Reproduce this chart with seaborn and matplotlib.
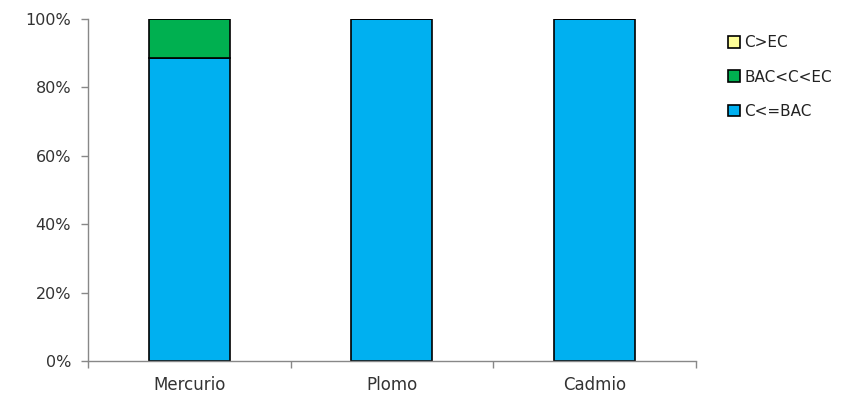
import matplotlib
matplotlib.use("Agg")
import matplotlib.pyplot as plt
import seaborn as sns
import pandas as pd
import numpy as np
from matplotlib.patches import Patch
from matplotlib.ticker import PercentFormatter, FixedLocator

categories = ["Mercurio", "Plomo", "Cadmio"]
c_le_bac = [88.7, 100, 100]
bac_c_ec = [11.3, 0, 0]
c_gt_ec = [0, 0, 0]
series_names = ["C<=BAC", "BAC<C<EC", "C>EC"]
colors = ["#00B0F0", "#00B050", "#FFFF99"]

sns.set_theme(style="white")
plt.rcParams['font.family'] = ['DejaVu Sans']

fig = plt.figure(figsize=(8.53, 3.95), dpi=100)
ax = fig.add_axes([0.103, 0.086, 0.713, 0.866])

df = pd.DataFrame({"cat": categories, "a": c_le_bac, "b": bac_c_ec, "c": c_gt_ec})
bottom = np.zeros(len(categories))
for col, name, color in zip(["a", "b", "c"], series_names, colors):
    vals = df[col].to_numpy()
    ax.bar(df["cat"], vals, bottom=bottom, width=0.4, color=color,
           edgecolor="black", linewidth=1.2, label=name)
    bottom = bottom + vals

ax.set_xlim(-0.5, 2.5)
ax.set_ylim(0, 100)
ax.yaxis.set_major_locator(FixedLocator([0, 20, 40, 60, 80, 100]))
ax.yaxis.set_major_formatter(PercentFormatter(decimals=0))
ax.set_xticks(range(len(categories)))
ax.set_xticklabels(categories)
ax.set_xticks([-0.5, 0.5, 1.5, 2.5], minor=True)
ax.tick_params(axis="x", which="major", length=0, pad=11, labelsize=12, colors="#333333")
ax.tick_params(axis="x", which="minor", length=5, color="#888888", width=1, direction="out", bottom=True)
ax.tick_params(axis="y", which="major", length=5, color="#888888", width=1, direction="out", left=True,
               labelsize=11.5, colors="#333333", pad=7)
for s in ["top", "right"]:
    ax.spines[s].set_visible(False)
for s in ["left", "bottom"]:
    ax.spines[s].set_color("#888888")
    ax.spines[s].set_linewidth(1)
ax.set_xlabel("")
ax.set_ylabel("")

handles = [Patch(facecolor=c, edgecolor="black", linewidth=1.2) for c in colors[::-1]]
leg = fig.legend(handles, series_names[::-1], loc="upper left", bbox_to_anchor=(0.837, 0.945),
                 frameon=False, fontsize=11, handlelength=0.8, handleheight=0.8,
                 handletextpad=0.3, labelspacing=1.25)
for t in leg.get_texts():
    t.set_color("#222222")

fig.savefig("out.png", dpi=100)
